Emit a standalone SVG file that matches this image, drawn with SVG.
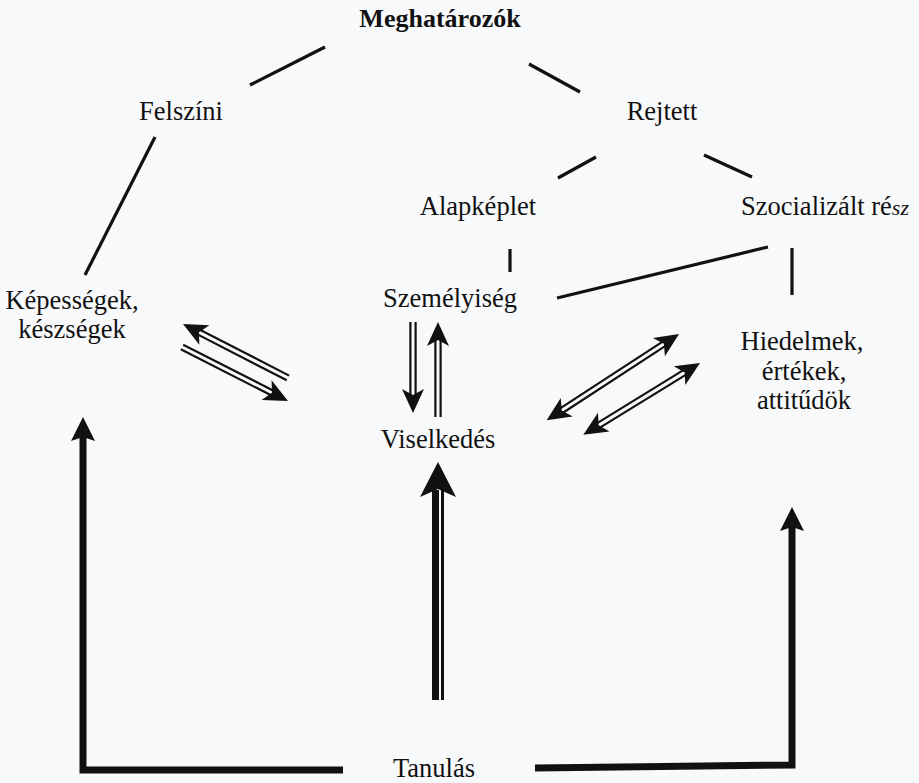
<svg xmlns="http://www.w3.org/2000/svg" width="919" height="783" viewBox="0 0 919 783">
  <defs>
    <style>
      .lbl { font-family: "Liberation Serif", "Times New Roman", serif; font-size: 26.5px; fill: #111; text-anchor: middle; }
      .title { font-weight: bold; font-size: 26px; }
      .tree { stroke: #111; stroke-width: 3.2; stroke-linecap: butt; fill: none; }
      .rail { stroke: #111; stroke-width: 2.2; fill: none; }
      .head { fill: #111; }
      .bold { stroke: #111; stroke-width: 7; fill: none; stroke-linejoin: miter; }
    </style>
    <!-- arrowhead pointing along +x, tip at origin -->
    <path id="hd" class="head" d="M0,0 L-24,-11 L-18,0 L-24,11 Z"/>
  </defs>

  <rect width="919" height="783" fill="#f8f9fb"/>

  <!-- hierarchy links -->
  <g id="connectors">
    <line class="tree" x1="250" y1="85" x2="325" y2="47"/>
    <line class="tree" x1="529" y1="64" x2="580" y2="92"/>
    <line class="tree" x1="155" y1="137" x2="85" y2="275"/>
    <line class="tree" x1="558" y1="178" x2="596" y2="157"/>
    <line class="tree" x1="704" y1="155" x2="752" y2="177"/>
    <line class="tree" x1="510" y1="249" x2="510" y2="272"/>
    <line class="tree" x1="557" y1="298" x2="768" y2="247"/>
    <line class="tree" x1="792" y1="248" x2="792" y2="295"/>

    <!-- double-rail arrows: Képességek <-> Viselkedés -->
    <g transform="translate(183,324) rotate(207.2)">
      <line class="rail" x1="-118" y1="-2.6" x2="-16" y2="-2.6"/>
      <line class="rail" x1="-118" y1="2.6" x2="-16" y2="2.6"/>
      <use href="#hd"/>
    </g>
    <g transform="translate(288,401) rotate(27)">
      <line class="rail" x1="-119" y1="-2.6" x2="-16" y2="-2.6"/>
      <line class="rail" x1="-119" y1="2.6" x2="-16" y2="2.6"/>
      <use href="#hd"/>
    </g>

    <!-- Személyiség <-> Viselkedés -->
    <g transform="translate(413,413) rotate(90)">
      <line class="rail" x1="-91" y1="-2.6" x2="-16" y2="-2.6"/>
      <line class="rail" x1="-91" y1="2.6" x2="-16" y2="2.6"/>
      <use href="#hd"/>
    </g>
    <g transform="translate(438,322) rotate(-90)">
      <line class="rail" x1="-95" y1="-2.6" x2="-16" y2="-2.6"/>
      <line class="rail" x1="-95" y1="2.6" x2="-16" y2="2.6"/>
      <use href="#hd"/>
    </g>

    <!-- Hiedelmek <-> Viselkedés (double-headed) -->
    <g transform="translate(679,334) rotate(-33.1)">
      <line class="rail" x1="-142" y1="-2.6" x2="-16" y2="-2.6"/>
      <line class="rail" x1="-142" y1="2.6" x2="-16" y2="2.6"/>
      <use href="#hd"/>
      <use href="#hd" transform="translate(-158,0) rotate(180)"/>
    </g>
    <g transform="translate(700,363) rotate(-31.6)">
      <line class="rail" x1="-121" y1="-2.6" x2="-16" y2="-2.6"/>
      <line class="rail" x1="-121" y1="2.6" x2="-16" y2="2.6"/>
      <use href="#hd"/>
      <use href="#hd" transform="translate(-137,0) rotate(180)"/>
    </g>

    <!-- Tanulás -> Viselkedés -->
    <rect x="432" y="490" width="7" height="210" fill="#111"/>
    <rect x="441" y="490" width="3" height="210" fill="#111"/>
    <path class="head" d="M438,462 L456,497 L438,489 L420,497 Z"/>

    <!-- Tanulás -> Képességek -->
    <path class="bold" d="M343,770 H83 V436"/>
    <path class="head" d="M83,417 L95,441 L83,437 L71,441 Z"/>

    <!-- Tanulás -> Hiedelmek -->
    <path class="bold" d="M535,768 L792,765 V526"/>
    <path class="head" d="M792,507 L804,531 L792,527 L780,531 Z"/>
  </g>

  <g id="meghatarozok"><text class="lbl title" x="440" y="27">Meghatározók</text></g>
  <g id="felszini"><text class="lbl" x="181" y="120">Felszíni</text></g>
  <g id="rejtett"><text class="lbl" x="662" y="120">Rejtett</text></g>
  <g id="alapkeplet"><text class="lbl" x="478" y="215">Alapképlet</text></g>
  <g id="szocializalt"><text class="lbl" x="741" y="215" style="text-anchor:start">Szocializált ré<tspan font-style="italic" font-size="22">sz</tspan></text></g>
  <g id="kepessegek">
    <text class="lbl" x="72" y="309">Képességek,</text>
    <text class="lbl" x="72" y="338">készségek</text>
  </g>
  <g id="szemelyiseg"><text class="lbl" x="450" y="307">Személyiség</text></g>
  <g id="hiedelmek">
    <text class="lbl" x="802" y="350">Hiedelmek,</text>
    <text class="lbl" x="804" y="380">értékek,</text>
    <text class="lbl" x="804" y="409">attitűdök</text>
  </g>
  <g id="viselkedes"><text class="lbl" x="438" y="448">Viselkedés</text></g>
  <g id="tanulas"><text class="lbl" x="434" y="777">Tanulás</text></g>
</svg>
